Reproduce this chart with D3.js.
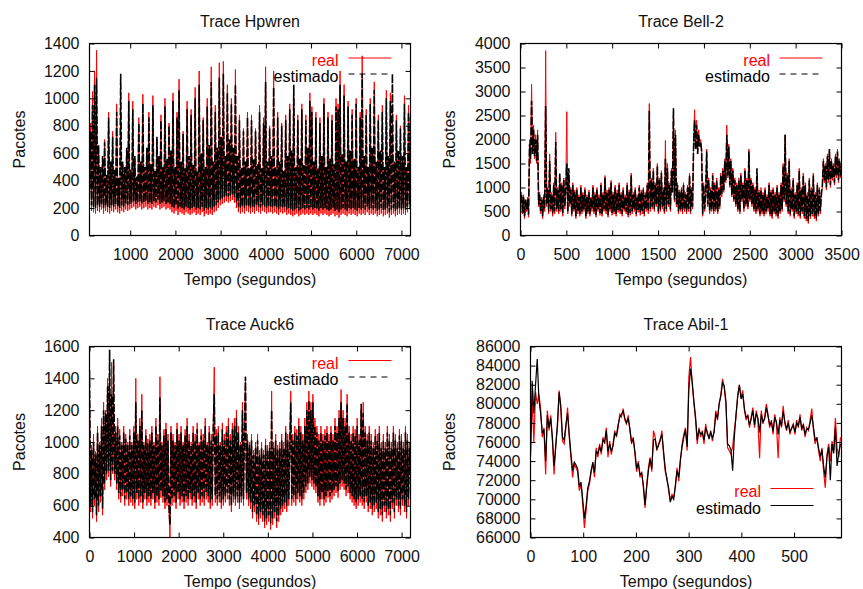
<!DOCTYPE html>
<html><head><meta charset="utf-8">
<script src="https://cdn.jsdelivr.net/npm/d3@7"></script>
<style>
html,body{margin:0;padding:0;background:#fff;}
svg{display:block;font-family:"Liberation Sans",Arial,Helvetica,sans-serif;}
</style></head><body>
<svg id="chart" width="863" height="589"></svg>
<script>
// ---------------- DATA ----------------
const titles = ["Trace Hpwren", "Trace Bell-2", "Trace Auck6", "Trace Abil-1"];
const legendLabels = ["real", "estimado"];
const xAxisTitle = "Tempo (segundos)";
const yAxisTitle = "Pacotes";

// Hpwren: samples evenly spaced from 100 s to 7200 s
const hpwrenTime = [100, 7200];
const hpwrenReal = [
 300,820,180,1050,170,1200,160,1350,180,640,170,480,190,560,160,700,180,420,170,900,
 160,520,180,760,170,450,190,960,170,380,160,880,180,520,170,480,190,620,180,1040,
 190,450,200,980,210,560,190,400,200,860,210,520,190,1030,200,480,210,620,190,900,
 200,500,190,1020,210,440,200,700,220,560,190,880,200,480,210,1000,190,540,200,820,
 190,600,170,1040,160,480,180,900,150,1140,170,520,160,760,150,460,170,980,160,560,
 150,920,160,500,170,1080,150,440,160,1200,150,580,170,860,140,480,160,1000,150,640,
 160,1230,150,520,170,950,180,620,200,1260,220,700,230,1270,240,560,250,1100,240,680,
 250,1000,260,620,240,1210,200,560,170,880,160,480,170,780,160,520,180,900,170,460,
 160,880,170,540,160,780,180,500,170,950,160,460,180,860,170,1230,160,520,170,800,
 170,560,160,1200,170,480,160,900,150,520,170,820,160,440,170,880,150,560,160,960,
 150,600,140,1000,150,480,160,880,140,540,150,960,160,500,150,880,160,620,150,1040,
 160,940,150,520,160,900,150,460,140,860,160,560,150,1000,160,480,150,900,140,540,
 150,880,160,500,140,1000,150,960,130,1200,150,580,160,1100,150,520,140,980,160,600,
 150,920,160,540,150,1000,140,480,160,900,150,1310,160,560,150,920,170,480,150,1000,
 160,620,150,1120,160,520,140,880,150,600,160,950,140,480,150,1060,160,560,130,1040,
 150,900,160,520,140,880,150,600,160,800,150,560,160,1020,150,480,170,950,200,880
];
const hpwrenEst = [
 320,760,220,950,210,1100,200,1150,220,660,210,500,230,580,200,680,220,450,210,860,
 200,540,220,720,210,480,230,900,210,420,200,1180,220,540,210,500,230,640,220,980,
 230,480,240,920,250,580,230,430,240,820,250,540,230,960,240,500,250,640,230,860,
 240,520,230,950,250,470,240,720,260,580,230,840,240,500,250,940,230,560,240,800,
 230,620,210,980,200,500,220,860,190,1060,210,540,200,740,190,490,210,920,200,580,
 190,880,200,520,210,1000,190,470,200,1100,190,600,210,840,180,500,200,940,190,660,
 200,1120,190,540,210,900,220,640,240,1150,260,720,270,1180,280,580,290,1040,280,700,
 290,960,300,640,280,1100,240,580,210,840,200,500,210,760,200,540,220,860,210,490,
 200,840,210,560,200,760,220,520,210,900,200,490,220,820,210,1120,200,540,210,780,
 210,580,200,1080,210,500,200,860,190,540,210,800,200,470,210,840,190,580,200,920,
 190,620,180,1100,190,500,200,840,180,560,190,920,200,520,190,840,200,640,190,980,
 200,900,190,540,200,860,190,490,180,820,200,580,190,960,200,500,190,860,180,560,
 190,840,200,520,180,940,190,920,170,1100,190,600,200,1020,190,540,180,940,200,620,
 190,880,200,560,190,960,180,500,200,860,190,1180,200,580,190,880,210,500,190,960,
 200,640,190,1060,200,540,180,840,190,620,200,900,180,500,190,1000,200,580,170,980,
 190,1180,200,540,180,840,190,620,200,780,190,580,200,960,190,500,210,900,230,860
];
const hpwrenXTicks = [1000,2000,3000,4000,5000,6000,7000];
const hpwrenYTicks = [0,200,400,600,800,1000,1200,1400];

// Bell-2: samples evenly spaced from 0 s to 3500 s
const bellTime = [0, 3500];
const bellReal = [
 600,900,450,850,350,700,500,800,380,2000,1500,3150,1800,2300,1600,2100,1500,2200,600,900,
 450,800,350,850,500,3850,600,1000,450,1700,500,900,400,1100,450,2150,500,1000,450,1200,
 500,1100,400,1200,550,1000,2580,450,1250,600,1000,400,1100,500,950,350,1000,450,850,400,
 1050,450,900,500,1000,350,850,450,950,400,800,500,1050,450,900,380,1000,500,850,420,
 1100,400,900,500,1250,450,950,380,1000,500,1150,420,900,450,1050,400,950,480,1100,450,
 900,400,1000,500,850,450,1100,380,950,420,1300,450,900,500,1000,400,850,480,1050,420,
 950,450,1000,400,900,500,1100,450,2750,500,1200,550,1400,500,1100,600,1500,450,1200,500,
 1350,550,1000,450,1980,500,1500,600,1100,500,1400,900,2500,700,2200,600,1100,450,950,500,
 1000,450,1100,500,900,450,1050,500,1300,450,1000,550,1900,2620,1800,2400,1700,2200,1900,2000,
 1800,400,1100,500,900,1800,600,1200,450,1000,500,1300,450,1100,500,1200,450,1000,550,1300,
 800,1400,900,1600,1100,2300,1200,1900,1000,1600,800,1400,700,1200,600,1100,500,1200,450,1300,
 700,1100,500,1400,600,1200,550,1800,700,1200,600,1100,500,1000,450,1200,500,950,400,1000,
 450,900,400,1000,450,850,500,1100,400,950,350,1000,450,900,400,1050,350,900,450,1100,
 500,1500,700,2100,600,1300,450,1600,400,1000,500,1200,350,900,450,1100,400,1400,350,1000,
 450,1300,350,1100,300,900,250,1200,350,1000,400,1300,350,900,300,1100,400,1000,450,900,
 1000,1600,1100,1500,950,1700,1100,1800,1000,1600,1150,1500,1050,1700,1200,1800,1100,1600,1200,1500
];
const bellEst = [
 650,850,500,800,400,750,550,750,430,1900,1600,2800,1700,2200,1650,2000,1550,2100,650,850,
 500,750,400,800,550,2700,650,950,500,1550,550,850,450,1050,500,1950,550,950,500,1300,
 550,1050,450,1150,600,950,1500,500,1400,650,950,450,1050,550,900,400,950,500,800,450,
 1000,500,850,550,950,400,800,500,900,450,780,550,1000,500,850,430,950,550,800,470,
 1050,450,850,550,1200,500,900,430,950,550,1100,470,850,500,1000,450,900,530,1050,500,
 850,450,950,550,800,500,1050,430,900,470,1250,500,850,550,950,450,800,530,1000,470,
 900,500,950,450,850,550,1050,500,2600,550,1150,600,1350,550,1050,650,1450,500,1150,550,
 1300,600,950,500,1600,550,1400,650,1050,550,1350,900,2650,750,2100,650,1050,500,900,550,
 950,500,1050,550,850,500,1000,550,1250,500,950,600,1850,2400,1800,2300,1700,2100,1850,1950,
 1750,450,1050,550,850,1750,650,1150,500,950,550,1250,500,1050,550,1150,500,950,600,1250,
 850,1350,950,1550,1150,2100,1250,1850,1050,1550,850,1350,750,1150,650,1050,550,1150,500,1250,
 750,1050,550,1350,650,1150,600,1750,750,1150,650,1050,550,950,500,1400,550,900,450,950,
 500,850,450,950,500,800,550,1050,450,900,400,950,500,850,450,1000,400,850,500,1050,
 550,1450,750,2100,650,1250,500,1550,450,950,550,1150,400,850,500,1050,450,1350,400,950,
 500,1250,400,1050,350,850,300,1150,400,950,450,1250,400,850,350,1050,450,950,500,850,
 1050,1550,1150,1450,1000,1650,1150,1800,1050,1550,1200,1450,1100,1650,1250,1750,1150,1550,1250,1450
];
const bellXTicks = [0,500,1000,1500,2000,2500,3000,3500];
const bellYTicks = [0,500,1000,1500,2000,2500,3000,3500,4000];

// Auck6: samples evenly spaced from 0 s to 7200 s
const auckTime = [0, 7200];
const auckReal = [
 1330,560,980,520,1050,600,940,500,1100,560,1000,620,1150,540,1250,700,1200,760,1400,780,
 1300,720,1500,800,1200,760,1100,700,1150,640,1080,620,1000,660,1100,600,1050,640,1000,600,
 1080,620,1000,600,1100,580,1400,640,1050,600,1150,620,1300,580,1000,640,1080,600,1020,620,
 1050,600,1100,640,1000,580,1150,620,1050,600,1410,650,1000,620,1080,580,1120,600,1050,560,
 400,1100,600,1050,620,1000,580,1120,640,1050,600,1100,620,1000,580,1080,620,1150,600,1050,
 640,1000,600,1100,620,1050,580,1120,640,1000,600,1080,620,1050,600,1150,640,1000,620,1100,
 580,1050,600,1120,1470,620,1080,600,1100,620,1000,580,1120,600,1050,620,1100,640,1150,600,
 1050,560,1120,620,1150,600,1200,620,1100,580,1000,620,1250,600,1100,1410,640,1050,600,1000,
 580,1050,520,950,560,1000,500,1050,480,950,520,1000,500,950,460,1020,480,980,500,1000,
 450,1320,480,1000,520,1050,460,980,500,1000,540,1050,560,1000,580,1100,560,1050,600,1000,
 1320,600,1050,620,1100,600,1080,640,1150,620,1100,600,1050,640,1150,680,1250,700,1320,740,
 1250,720,1300,700,1150,680,1100,620,1050,600,1100,640,1050,600,1080,620,1100,650,1050,620,
 1100,640,1050,660,1150,680,1100,650,1200,700,1330,720,1200,700,1150,660,1300,680,1100,640,
 1050,620,1100,600,1080,580,1150,600,1050,620,1200,600,1250,580,1100,620,1050,560,1100,580,
 1050,540,1000,560,1080,580,1050,520,1100,540,1000,500,1050,560,1000,520,1100,540,1050,500,
 1000,580,1100,520,1050,600,1000,560,1080,540,1050,600,1000,560,1100,520,1050,600,1000,820
];
const auckEst = [
 1450,600,950,560,1000,640,920,540,1060,600,980,660,1100,580,1200,740,1180,800,1350,820,
 1580,760,1300,820,1520,800,1060,740,1100,680,1040,660,980,700,1060,640,1020,680,980,640,
 1040,660,980,640,1060,620,1250,680,1010,640,1100,660,1200,620,980,680,1040,640,990,660,
 1010,640,1060,680,980,620,1100,660,1010,640,1280,690,980,660,1040,620,1080,640,1010,600,
 480,1060,640,1010,660,980,620,1080,680,1010,640,1060,660,980,620,1040,660,1100,640,1010,
 680,980,640,1060,660,1010,620,1080,680,980,640,1040,660,1010,640,1100,680,980,660,1060,
 620,1010,640,1080,1300,660,1040,640,1060,660,980,620,1080,640,1010,660,1060,680,1100,640,
 1010,600,1080,660,1100,640,1150,660,1060,620,980,660,1200,640,1060,1410,680,1010,640,980,
 620,1010,560,920,600,960,540,1010,520,920,560,960,540,920,500,980,520,950,540,960,
 490,1200,520,960,560,1010,500,950,540,960,580,1010,600,960,620,1060,600,1010,640,960,
 1250,640,1010,660,1060,640,1040,680,1100,660,1060,640,1010,680,1100,720,1200,740,1260,780,
 1200,760,1250,740,1100,720,1060,660,1010,640,1060,680,1010,640,1040,660,1060,690,1010,660,
 1060,680,1010,700,1100,720,1060,690,1150,740,1250,760,1150,740,1100,700,1240,720,1060,680,
 1010,660,1060,640,1040,620,1100,640,1010,660,1240,640,1180,620,1060,660,1010,600,1060,620,
 1010,580,960,600,1040,620,1010,560,1060,580,960,540,1010,600,960,560,1060,580,1010,540,
 960,620,1060,560,1010,640,960,600,1040,580,1010,640,960,600,1060,560,1010,640,960,800
];
const auckXTicks = [0,1000,2000,3000,4000,5000,6000,7000];
const auckYTicks = [400,600,800,1000,1200,1400,1600];

// Abil-1: samples evenly spaced from 0 s to 588 s
const abilTime = [0, 588];
const abilReal = [
 75000,80500,76000,81200,80000,81000,79500,76500,77500,72600,
 79300,77200,78800,76100,72600,75800,77500,81400,79300,76100,
 75800,77500,79600,76500,74400,72300,73700,73300,72900,70900,
 71600,69500,67000,68800,70900,71600,72900,73700,72300,75400,
 74400,75800,74700,76500,75800,77500,74400,76100,74700,75800,
 77200,76500,77500,78900,78600,79500,78300,77900,78800,77200,
 75800,76500,74700,72900,74000,72300,72900,71200,69100,71600,
 73300,74400,72900,77200,76500,75100,75800,76100,77200,74700,
 72900,72300,70900,69800,70500,70200,71200,73300,71900,74000,
 75800,76800,77500,75100,82800,84900,82100,80000,78300,75800,
 77500,76500,77200,75800,77900,76800,76500,77200,76100,77200,
 79300,78300,80000,81000,82600,81700,80000,75400,75100,74700,
 75500,77200,78600,81000,81900,80700,81400,79300,78300,78900,
 77500,78600,79600,77500,79300,78300,74300,79300,77900,78600,
 80000,78900,77500,78300,76800,78900,77900,74300,78600,77500,
 79800,77900,77200,78300,76800,77500,77900,76800,78300,77500,
 78900,77200,77900,76500,77500,77200,78300,79500,77200,75800,
 76500,75100,74000,75400,72900,71200,74700,75800,74000,76100,
 75100,78500,75400,74400,76500
];
const abilEst = [
 74500,82400,79000,82000,84700,80500,79000,77000,77200,74000,
 78800,77500,78500,76500,73500,75500,78000,81200,79800,76500,
 76200,77800,79000,76800,74800,73000,73900,73600,73200,71300,
 71800,70000,68000,69300,71200,71900,73000,73900,72800,75000,
 74800,75500,75000,76200,76000,77200,75000,75800,75000,75600,
 76900,76700,77800,78600,78900,79200,78500,78000,78500,77400,
 76000,76300,75000,73200,73800,72600,72700,71500,69400,71300,
 73000,74200,73200,76200,76300,75300,75600,76300,76800,75000,
 73200,72000,71200,69700,70300,70000,71500,73000,72300,74200,
 75500,76500,77300,75500,81500,83700,82300,80300,78600,76200,
 77300,76800,77000,76200,77500,77000,76300,77000,76400,77000,
 78900,78500,80000,80800,82200,81900,80300,75800,75600,75200,
 73000,76500,78900,80700,82000,80500,81000,79500,78600,78700,
 77800,78400,79300,77800,79000,78500,77000,78900,78100,78400,
 79600,78700,77800,78100,77100,78600,78100,76800,78300,77700,
 79200,78100,77400,78000,77100,77400,77800,77000,78000,77700,
 78600,77400,77800,76800,77400,77300,78000,78800,77500,76200,
 76400,75400,74500,75200,73500,72300,74400,75500,72000,75800,
 74800,77500,73500,74800,75800
];
const abilXTicks = [0,100,200,300,400,500];
const abilYTicks = [66000,68000,70000,72000,74000,76000,78000,80000,82000,84000,86000];

// ---------------- CHART ----------------
const svg = d3.select("#chart");
const FONT = 16;

const panels = [
  { id: 0, title: titles[0], real: hpwrenReal, est: hpwrenEst, time: hpwrenTime,
    xDomain: [100, 7200], yDomain: [0, 1400], xTicks: hpwrenXTicks, yTicks: hpwrenYTicks,
    box: { l: 89.5, t: 43.5, r: 410.5, b: 235.5 }, yTitleX: 24.5, dashed: true,
    legend: { textRight: 338.5, x1: 348.5, x2: 391.5, rows: [[58, 66], [74, 82]] } },
  { id: 1, title: titles[1], real: bellReal, est: bellEst, time: bellTime,
    xDomain: [0, 3500], yDomain: [0, 4000], xTicks: bellXTicks, yTicks: bellYTicks,
    box: { l: 520.5, t: 43.5, r: 841.5, b: 235.5 }, yTitleX: 455, dashed: true,
    legend: { textRight: 770, x1: 779.5, x2: 822.5, rows: [[58, 66], [74, 82]] } },
  { id: 2, title: titles[2], real: auckReal, est: auckEst, time: auckTime,
    xDomain: [0, 7200], yDomain: [400, 1600], xTicks: auckXTicks, yTicks: auckYTicks,
    box: { l: 89.5, t: 346.5, r: 410.5, b: 537.5 }, yTitleX: 24.5, dashed: true,
    legend: { textRight: 338.5, x1: 348.5, x2: 391.5, rows: [[360.5, 369], [377, 385]] } },
  { id: 3, title: titles[3], real: abilReal, est: abilEst, time: abilTime,
    xDomain: [0, 590], yDomain: [66000, 86000], xTicks: abilXTicks, yTicks: abilYTicks,
    box: { l: 530.5, t: 346.5, r: 841.5, b: 537.5 }, yTitleX: 455, dashed: false,
    legend: { textRight: 761, x1: 770.5, x2: 813.5, rows: [[488.5, 497], [505.5, 514]] } }
];

function drawPanel(p) {
  const b = p.box;
  const x = d3.scaleLinear().domain(p.xDomain).range([b.l, b.r]);
  const y = d3.scaleLinear().domain(p.yDomain).range([b.b, b.t]);
  const g = svg.append("g");

  const cid = "clip" + p.id;
  svg.append("clipPath").attr("id", cid).append("rect")
    .attr("x", b.l).attr("y", b.t).attr("width", b.r - b.l).attr("height", b.b - b.t);

  const seriesLine = (arr) => {
    const step = (p.time[1] - p.time[0]) / (arr.length - 1);
    return d3.line().x((d, i) => x(p.time[0] + i * step)).y(d => y(d))(arr);
  };

  const plot = g.append("g").attr("clip-path", `url(#${cid})`);
  plot.append("path").attr("d", seriesLine(p.real))
    .attr("fill", "none").attr("stroke", "#ff0000").attr("stroke-width", p.dashed ? 1 : 1.2);
  const estPath = plot.append("path").attr("d", seriesLine(p.est))
    .attr("fill", "none").attr("stroke", "#000").attr("stroke-width", p.dashed ? 1.6 : 1.2);
  if (p.dashed) estPath.attr("stroke-dasharray", "8,2");

  // legend
  const lg = g.append("g").attr("font-size", FONT);
  const lr = p.legend;
  lg.append("text").attr("x", lr.textRight).attr("y", lr.rows[0][1]).attr("text-anchor", "end")
    .attr("fill", "#ff0000").text(legendLabels[0]);
  lg.append("line").attr("x1", lr.x1).attr("x2", lr.x2).attr("y1", lr.rows[0][0]).attr("y2", lr.rows[0][0])
    .attr("stroke", "#ff0000").attr("stroke-width", 1);
  lg.append("text").attr("x", lr.textRight).attr("y", lr.rows[1][1]).attr("text-anchor", "end")
    .attr("fill", "#000").text(legendLabels[1]);
  const l2 = lg.append("line").attr("x1", lr.x1).attr("x2", lr.x2).attr("y1", lr.rows[1][0]).attr("y2", lr.rows[1][0])
    .attr("stroke", "#000").attr("stroke-width", 1);
  if (p.dashed) l2.attr("stroke-dasharray", "6,5");

  // axes (inward ticks, mirrored)
  const fmt = d3.format("d");
  const bottom = g.append("g").attr("transform", `translate(0,${b.b})`)
    .call(d3.axisBottom(x).tickValues(p.xTicks).tickSizeInner(-5).tickSizeOuter(0).tickPadding(13).tickFormat(fmt));
  const top = g.append("g").attr("transform", `translate(0,${b.t})`)
    .call(d3.axisTop(x).tickValues(p.xTicks).tickSizeInner(-5).tickSizeOuter(0).tickFormat(""));
  const left = g.append("g").attr("transform", `translate(${b.l},0)`)
    .call(d3.axisLeft(y).tickValues(p.yTicks).tickSizeInner(-5).tickSizeOuter(0).tickPadding(10).tickFormat(fmt));
  const right = g.append("g").attr("transform", `translate(${b.r},0)`)
    .call(d3.axisRight(y).tickValues(p.yTicks).tickSizeInner(-5).tickSizeOuter(0).tickFormat(""));
  [bottom, top, left, right].forEach(a => {
    a.select(".domain").remove();
    a.attr("font-size", FONT).attr("font-family", null);
    a.selectAll("line").attr("stroke", "#000");
    a.selectAll("text").attr("fill", "#111");
  });

  // frame
  g.append("rect").attr("x", b.l).attr("y", b.t).attr("width", b.r - b.l).attr("height", b.b - b.t)
    .attr("fill", "none").attr("stroke", "#000").attr("stroke-width", 1.2);

  // titles
  g.append("text").attr("x", (b.l + b.r) / 2).attr("y", b.t - 17).attr("text-anchor", "middle")
    .attr("font-size", FONT).attr("fill", "#111").text(p.title);
  g.append("text").attr("x", (b.l + b.r) / 2).attr("y", b.b + 49).attr("text-anchor", "middle")
    .attr("font-size", FONT).attr("fill", "#111").text(xAxisTitle);
  g.append("text").attr("transform", `translate(${p.yTitleX},${(b.t + b.b) / 2}) rotate(-90)`)
    .attr("text-anchor", "middle").attr("font-size", FONT).attr("fill", "#111").text(yAxisTitle);
}

panels.forEach(drawPanel);
</script>
</body></html>
